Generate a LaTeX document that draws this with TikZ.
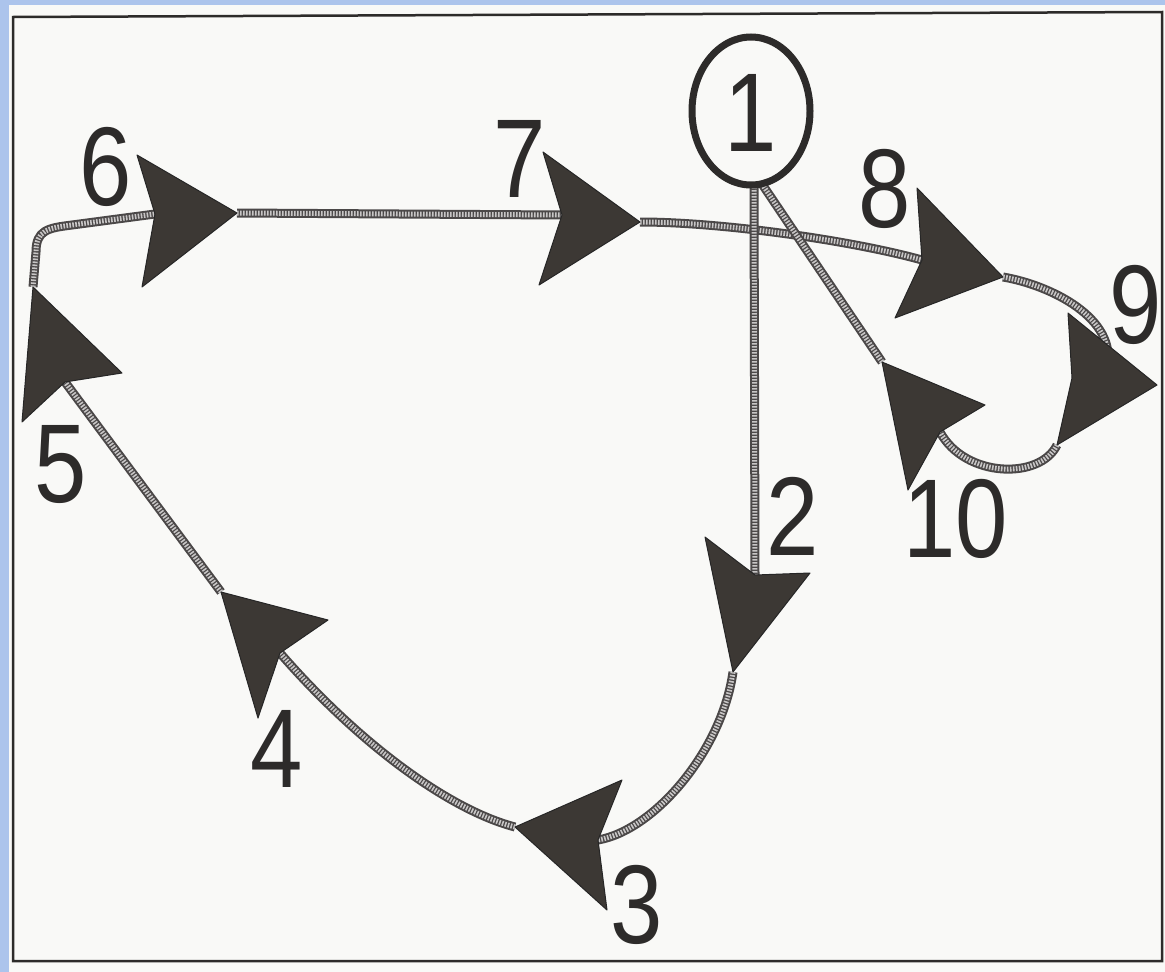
\documentclass[tikz,border=0pt]{standalone}
\usepackage{fontspec}
\setmainfont{Liberation Sans}
\usepackage{graphicx}
\usetikzlibrary{shapes.geometric}
\definecolor{paper}{RGB}{249,249,247}
\definecolor{stripblue}{RGB}{172,196,236}
\definecolor{ink}{RGB}{45,43,42}
\definecolor{headfill}{RGB}{60,56,52}
\definecolor{ropedark}{RGB}{75,72,72}
\definecolor{ropelight}{RGB}{200,198,198}
\tikzset{
  rope/.style={draw=ropelight, line width=5pt, dash pattern=on 1.6pt off 1.4pt,
    preaction={draw=ropedark, line width=9pt, solid}},
  head/.style={fill=headfill, draw=black!85, line width=1pt, line join=round},
  lbl/.style={text=ink, inner sep=0pt, text height=80pt, text depth=0pt,
    font=\fontsize{112}{112}\selectfont},
}
\newcommand{\dg}[1]{\scalebox{0.84}[1]{#1}}
\begin{document}
\begin{tikzpicture}[x=1pt,y=-1pt]
\useasboundingbox (0,0) rectangle (1165,972);
\fill[paper] (0,0) rectangle (1165,972);
\fill[stripblue] (0,0) rectangle (9,972);
\fill[stripblue] (0,0) rectangle (1165,5);
\draw[ink, line width=2.5pt] (13,17) -- (1162,12) -- (1162,961) -- (13,961) -- cycle;

% rope end points
\coordinate (t5) at (33,287);  \coordinate (k5) at (65,382);
\coordinate (k6) at (155,214); \coordinate (t6) at (237,213);
\coordinate (k7) at (562,215); \coordinate (t7) at (640,222);
\coordinate (k8) at (922,260); \coordinate (t8) at (1003,277);
\coordinate (e9) at (1107,368); \coordinate (b9) at (1057,445);
\coordinate (k10) at (940,432); \coordinate (c10) at (882,362);
\coordinate (s1) at (754,184);  \coordinate (d1) at (762,184);
\coordinate (k2) at (755,575); \coordinate (t2) at (733,672);
\coordinate (k3) at (598,840); \coordinate (t3) at (515,827);
\coordinate (k4) at (280,653); \coordinate (c4) at (221,592);

% ropes
\draw[rope] (t5) -- (36,252) .. controls (36,230) and (48,228) .. (72,225) -- (k6);
\draw[rope] (t6) -- (k7);
\draw[rope] (t7) .. controls (720,222) and (850,240) .. (k8);
\draw[rope] (t8) .. controls (1050,285) and (1118,318) .. (e9);
\draw[rope] (b9) .. controls (1040,480) and (965,478) .. (k10);
\draw[rope] (s1) -- (k2);
\draw[rope] (d1) -- (c10);
\draw[rope] (t2) .. controls (722,750) and (655,830) .. (k3);
\draw[rope] (t3) .. controls (450,810) and (360,745) .. (k4);
\draw[rope] (c4) -- (k5);

% arrowheads
\filldraw[head] (t5) -- (122,373) -- (k5) -- (22,422) -- cycle;
\filldraw[head] (137,155) -- (t6) -- (142,287) -- (k6) -- cycle;
\filldraw[head] (543,152) -- (t7) -- (539,285) -- (k7) -- cycle;
\filldraw[head] (917,188) -- (t8) -- (895,318) -- (k8) -- cycle;
\filldraw[head] (1068,313) -- (1157,385) -- (b9) -- (1072,378) -- cycle;
\filldraw[head] (c10) -- (985,405) -- (k10) -- (908,490) -- cycle;
\filldraw[head] (705,537) -- (k2) -- (810,573) -- (t2) -- cycle;
\filldraw[head] (622,780) -- (k3) -- (607,910) -- (t3) -- cycle;
\filldraw[head] (c4) -- (328,620) -- (k4) -- (258,718) -- cycle;

% labels
\node[lbl, ellipse, draw=ink, line width=7pt, minimum width=118pt, minimum height=148pt] (n1) at (751,111) {\dg{1}};
\node[lbl] (n2) at (793,515) {\dg{2}};
\node[lbl] (n3) at (637,903) {\dg{3}};
\node[lbl] (n4) at (277,747) {\dg{4}};
\node[lbl] (n5) at (61,462) {\dg{5}};
\node[lbl] (n6) at (106,165) {\dg{6}};
\node[lbl] (n7) at (520,157) {\dg{7}};
\node[lbl] (n8) at (885,187) {\dg{8}};
\node[lbl] (n9) at (1136,303) {\dg{9}};
\node[lbl] (n10) at (956,517) {\dg{10}};
\end{tikzpicture}
\end{document}
